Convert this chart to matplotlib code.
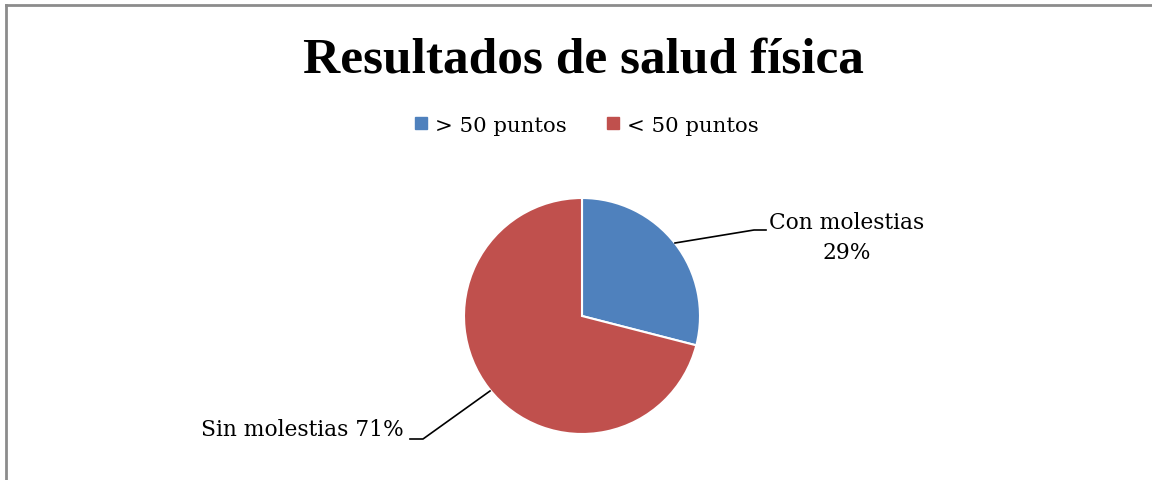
import matplotlib
matplotlib.use("Agg")
import matplotlib.pyplot as plt
from matplotlib.patches import Patch
from matplotlib.lines import Line2D

# datos del grafico
categorias = ["Con molestias", "Sin molestias"]
leyenda = ["> 50 puntos", "< 50 puntos"]
valores = [29, 71]
colores = ["#4F81BD", "#C0504D"]

plt.rcParams["font.family"] = ["DejaVu Serif"]

W, H = 1152, 481
fig = plt.figure(figsize=(W / 100, H / 100), dpi=100)

# marco gris (solo arriba e izquierda visibles)
fig.add_artist(Line2D([6 / W, 6 / W], [0, 1 - 6 / H], color="#8c8c8c", lw=2))
fig.add_artist(Line2D([6 / W, 1], [1 - 6 / H, 1 - 6 / H], color="#8c8c8c", lw=2))

fig.text(583 / W, 1 - 61 / H, "Resultados de salud física", ha="center", va="center",
         fontsize=37, fontweight="bold", family="Liberation Serif")

# pie
cx, cy, r = 582, 317, 118
ax = fig.add_axes([(cx - r) / W, (H - cy - r) / H, 2 * r / W, 2 * r / H])
wedges, _ = ax.pie(valores, colors=colores, startangle=90, counterclock=False,
                   wedgeprops=dict(edgecolor="white", linewidth=1.5))
ax.set_xlim(-1, 1)
ax.set_ylim(-1, 1)
ax.axis("off")

# leyenda
fig.legend([Patch(color=c) for c in colores], leyenda, loc="center",
           bbox_to_anchor=(587 / W, 1 - 126 / H), ncol=2, frameon=False,
           fontsize=15.3, handlelength=0.55, handleheight=0.55, handletextpad=0.4,
           columnspacing=1.9)

# etiquetas con lineas guia (coordenadas en pixeles de la figura)
def px(x, y):
    return (x / W, 1 - y / H)

fig.add_artist(Line2D([675 / W, 754 / W, 766 / W], [1 - 244 / H, 1 - 231 / H, 1 - 231 / H],
                      color="black", lw=1.2))
fig.text(*px(847, 238), f"{categorias[0]}\n{valores[0]}%", ha="center", va="center",
         fontsize=15.7, linespacing=1.45)

fig.add_artist(Line2D([490 / W, 423 / W, 410 / W], [1 - 392 / H, 1 - 440 / H, 1 - 440 / H],
                      color="black", lw=1.2))
fig.text(*px(404, 430), f"{categorias[1]} {valores[1]}%", ha="right", va="center",
         fontsize=15.7)

fig.savefig("out.png", dpi=100)
